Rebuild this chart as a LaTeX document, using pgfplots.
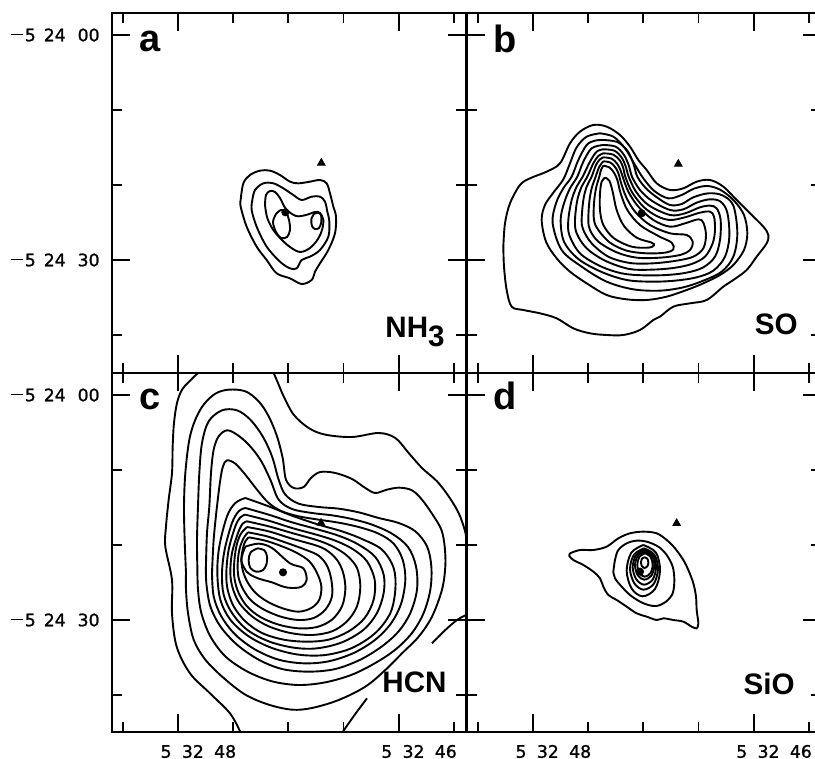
\documentclass[border=0pt]{standalone}
\usepackage{fontspec}
\setmainfont{Liberation Sans}
\newfontfamily\tickfont[FakeBold=1.2]{DejaVu Sans}
\usepackage{pgfplots}
\pgfplotsset{compat=1.18}
\newcommand\mn{\rule[3pt]{6pt}{0.8pt}}
\newcommand\ylA{\mbox{\mn\hspace{0.7pt}5\hspace{4pt}24\hspace{6pt}00}}
\newcommand\ylB{\mbox{\mn\hspace{0.7pt}5\hspace{4pt}24\hspace{6pt}30}}
\newcommand\xlA{\mbox{5\hspace{5.2pt}32\hspace{5.2pt}48}}
\newcommand\xlB{\mbox{5\hspace{5.2pt}32\hspace{5.2pt}46}}
\tikzset{
  plet/.style={anchor=base west, inner sep=0pt, font=\bfseries\fontsize{19}{19}\selectfont},
  pmol/.style={anchor=base east, inner sep=0pt, font=\bfseries\fontsize{14.8}{15}\selectfont}
}
\pgfplotsset{
  panel/.style={scale only axis, width=177pt, height=180pt, y dir=reverse, anchor=south west,
    axis line style={line width=1.1pt}, tick align=inside,
    major tick length=9pt, minor tick length=5pt,
    tick style={black, line width=0.9pt},
    tick label style={font=\tickfont\fontsize{8.6}{9}\selectfont},
    yticklabel style={anchor=east, inner sep=0pt, xshift=-6pt},
    xticklabel style={anchor=north, inner sep=0pt, yshift=-6.3pt, xshift=10.2pt}},
  ct/.style={black, line width=0.95pt, smooth, tension=0.55, mark=none},
  tri/.style={only marks, mark=triangle*, mark size=2.2pt, black},
  dot/.style={only marks, mark=*, mark size=1.8pt, black}
}
\begin{document}
\begin{tikzpicture}
\useasboundingbox (0,0) rectangle (407.5pt,379.5pt);
% ---------------- panel a : NH3
\begin{axis}[panel, at={(56pt,193pt)},
  xmin=336, xmax=1398, ymin=39, ymax=1119,
  xtick={534,1196}, minor xtick={368.5,699.5,865,1030.5,1361.5}, xticklabels={},
  ytick={105,780}, minor ytick={330,555,1005}, yticklabels={\ylA,\ylB}]
\addplot[ct] coordinates {(722,600) (730,550) (750,525) (780,512) (810,512) (840,525) (870,545) (895,550) (930,545) (960,540) (980,550) (990,580) (1000,620) (1008,650) (1005,700) (985,750) (960,790) (945,815) (935,840) (905,852) (870,835) (830,820) (800,780) (770,740) (740,680) (722,620) (722,600)};
\addplot[ct] coordinates {(757,600) (765,570) (790,550) (820,550) (850,565) (880,585) (905,600) (935,590) (960,590) (975,605) (982,635) (988,665) (985,710) (960,750) (930,770) (905,780) (890,805) (870,805) (840,785) (800,740) (770,680) (755,630) (757,600)};
\addplot[ct] coordinates {(795,615) (798,585) (810,573) (825,576) (840,594) (858,627) (888,648) (918,645) (945,636) (960,639) (970,660) (966,690) (954,717) (930,744) (900,756) (870,741) (840,714) (816,684) (801,651) (795,615)};
\addplot[ct] coordinates {(828,642) (843,630) (858,636) (867,660) (870,690) (861,711) (843,714) (828,696) (819,666) (828,642)};
\addplot[ct] coordinates {(942,642) (954,638) (963,645) (964,666) (957,684) (945,687) (936,678) (934,657) (942,642)};
\addplot[tri] coordinates {(964,489)};
\addplot[dot] coordinates {(856,637)};
\node[plet] at (axis cs:417,156) {a};
\node[pmol] at (axis cs:1335,1014) {NH\raisebox{-4.3pt}{3}};
\end{axis}
% ---------------- panel b : SO
\begin{axis}[panel, at={(233.5pt,193pt)},
  xmin=-9, xmax=1053, ymin=-291, ymax=789,
  xtick={189,851}, minor xtick={23.5,354.5,520,685.5,1016.5}, xticklabels={},
  ytick={-225,450}, minor ytick={0,225,675}, yticklabels={}]
\addplot[ct] coordinates {(100,410) (105,340) (120,280) (150,225) (180,205) (230,185) (270,160) (300,100) (330,65) (370,45) (410,50) (450,75) (480,110) (505,150) (530,180) (560,220) (600,240) (640,235) (680,215) (720,210) (760,230) (800,270) (840,310) (880,350) (895,375) (890,400) (860,440) (830,480) (790,510) (760,530) (710,570) (660,580) (610,590) (570,620) (550,630) (510,660) (460,675) (410,675) (360,670) (310,655) (260,625) (210,610) (160,600) (125,590) (110,540) (102,470) (100,410)};
\addplot[ct] coordinates {(390,70) (430,80) (465,115) (495,165) (520,205) (553,243) (595,265) (635,255) (672,236) (712,228) (752,240) (792,272) (822,315) (832,370) (822,420) (790,465) (750,495) (700,520) (650,540) (590,560) (530,570) (470,568) (410,555) (350,520) (300,485) (260,445) (228,395) (215,330) (225,285) (250,248) (280,208) (300,160) (320,112) (350,80) (390,70)};
\addplot[ct] coordinates {(400,90) (442,96) (472,122) (490,160) (502,200) (528,235) (562,263) (600,285) (635,282) (670,262) (715,250) (757,256) (790,287) (802,370) (790,440) (755,485) (700,512) (640,532) (570,542) (490,538) (410,515) (335,470) (275,420) (248,340) (258,280) (280,235) (305,200) (325,150) (350,105) (375,92) (400,90)};
\addplot[ct] coordinates {(400,105) (437,110) (462,135) (477,168) (486,200) (510,240) (545,272) (600,300) (640,298) (680,278) (720,268) (752,275) (772,308) (778,380) (765,440) (730,482) (680,502) (615,512) (545,515) (470,510) (395,486) (325,447) (282,395) (272,330) (282,280) (300,235) (322,200) (340,155) (365,115) (400,105)};
\addplot[ct] coordinates {(400,118) (433,122) (455,143) (468,172) (476,200) (498,245) (535,285) (600,315) (645,310) (690,292) (720,287) (740,295) (752,330) (750,390) (735,440) (700,472) (650,488) (590,495) (520,496) (455,490) (390,468) (330,430) (298,375) (295,330) (305,270) (320,230) (338,200) (360,155) (380,125) (400,118)};
\addplot[ct] coordinates {(400,130) (430,134) (450,152) (460,175) (466,200) (485,245) (520,290) (560,318) (600,330) (645,322) (690,308) (720,305) (732,320) (735,360) (728,400) (705,440) (665,462) (610,474) (545,479) (478,477) (405,452) (350,415) (320,370) (315,330) (322,270) (335,230) (352,200) (370,160) (385,138) (400,130)};
\addplot[ct] coordinates {(400,142) (425,146) (442,162) (452,182) (458,200) (475,245) (505,290) (550,330) (600,350) (645,340) (685,328) (700,338) (708,375) (700,415) (670,440) (620,452) (550,460) (480,459) (415,440) (365,400) (340,360) (335,330) (340,270) (350,230) (365,200) (378,165) (390,148) (400,142)};
\addplot[ct] coordinates {(400,154) (422,158) (438,175) (447,195) (452,215) (468,260) (495,305) (540,345) (600,370) (650,375) (668,395) (660,420) (630,435) (570,443) (500,443) (440,427) (385,395) (360,360) (355,330) (358,275) (365,235) (377,200) (388,170) (400,154)};
\addplot[ct] coordinates {(400,167) (418,172) (432,188) (442,210) (452,250) (472,300) (510,345) (565,378) (605,398) (610,418) (585,428) (530,430) (470,422) (420,398) (385,360) (372,330) (372,280) (378,235) (388,200) (393,180) (400,167)};
\addplot[ct] coordinates {(405,203) (418,212) (428,245) (440,300) (462,348) (500,383) (545,398) (552,406) (535,413) (485,410) (432,385) (400,345) (390,300) (390,250) (395,215) (405,203)};
\addplot[tri] coordinates {(625,162)};
\addplot[dot] coordinates {(515,310)};
\node[plet] at (axis cs:69,-171) {b};
\node[pmol] at (axis cs:984,675) {SO};
\end{axis}
% ---------------- panel c : HCN
\begin{axis}[panel, at={(56pt,13.5pt)}, height=179.5pt,
  xmin=0, xmax=1062, ymin=0, ymax=1077,
  xtick={198,860}, minor xtick={32.5,363.5,529,694.5,1025.5}, xticklabels={\xlA,\xlB},
  ytick={66,741}, minor ytick={291,516,966}, yticklabels={\ylA,\ylB}]
\addplot[ct] coordinates {(258,0) (232,25) (210,50) (195,90) (186,150) (182,220) (180,300) (170,380) (162,460) (160,521) (180,621) (180,721) (194,821) (234,901) (294,961) (354,1021) (385,1077)};
\addplot[ct] coordinates {(485,0) (498,30) (515,70) (545,125) (590,165) (640,185) (720,192) (800,180) (850,195) (890,240) (930,285) (975,325) (1010,370) (1040,420) (1058,470) (1062,490)};
\addplot[ct] coordinates {(960,811) (1000,771) (1035,741) (1062,726)};
\addplot[ct] coordinates {(765,976) (735,1016) (710,1051) (692,1077)};
\addplot[ct] coordinates {(222,600) (218,500) (216,400) (220,300) (232,200) (250,140) (275,95) (310,62) (350,50) (400,55) (440,85) (470,130) (495,190) (512,255) (522,320) (545,345) (575,342) (597,315) (625,297) (670,300) (720,318) (760,345) (790,360) (825,350) (862,344) (900,352) (930,380) (962,425) (988,470) (998,520) (1000,580) (990,650) (960,731) (920,791) (870,841) (820,891) (760,941) (680,981) (600,1005) (540,1010) (470,995) (400,965) (335,915) (280,860) (245,800) (228,720) (222,650) (222,600)};
\addplot[ct] coordinates {(256,580) (255,500) (258,400) (262,300) (270,210) (290,145) (330,112) (375,112) (415,140) (452,190) (480,250) (500,320) (520,365) (560,392) (620,402) (680,407) (740,418) (800,435) (860,450) (910,475) (945,520) (958,580) (955,650) (935,720) (900,780) (850,830) (790,870) (720,905) (640,928) (560,936) (480,925) (405,895) (340,850) (295,790) (268,720) (258,650) (256,580)};
\addplot[ct] coordinates {(282,570) (285,480) (292,400) (297,300) (305,230) (320,190) (345,172) (375,185) (410,215) (445,260) (475,320) (500,380) (540,408) (600,420) (660,427) (720,438) (780,455) (840,482) (888,522) (912,580) (915,650) (895,720) (860,775) (810,820) (745,860) (670,888) (590,896) (510,888) (440,860) (375,815) (325,760) (295,700) (283,630) (282,570)};
\addplot[ct] coordinates {(300,600) (305,500) (315,400) (325,320) (333,280) (345,262) (370,272) (400,305) (435,350) (470,390) (510,415) (560,430) (620,440) (680,449) (740,462) (800,482) (845,512) (872,560) (880,620) (868,690) (838,750) (790,800) (725,840) (650,865) (575,871) (500,860) (430,830) (370,785) (328,730) (305,670) (300,600)};
\addplot[ct] coordinates {(400,375) (470,400) (540,428) (620,455) (690,475) (750,498) (810,530) (845,585) (850,650) (835,720) (790,780) (720,825) (640,846) (560,845) (480,825) (410,790) (355,740) (325,680) (316,600) (322,520) (345,430) (370,390) (400,375)};
\addplot[ct] coordinates {(400,405) (470,425) (540,448) (620,470) (685,490) (740,515) (790,552) (815,605) (815,660) (795,720) (755,770) (690,808) (615,826) (545,824) (470,805) (405,770) (360,720) (335,665) (330,600) (338,530) (360,450) (380,415) (400,405)};
\addplot[ct] coordinates {(400,425) (470,443) (540,465) (620,487) (675,505) (725,530) (765,565) (788,620) (785,680) (758,735) (710,775) (650,800) (585,806) (515,800) (450,780) (400,745) (365,700) (347,650) (343,600) (350,530) (370,460) (385,433) (400,425)};
\addplot[ct] coordinates {(405,445) (470,460) (540,480) (620,503) (665,522) (705,548) (735,585) (745,640) (735,700) (705,745) (660,775) (600,786) (535,780) (470,760) (420,730) (382,690) (362,645) (355,600) (360,540) (378,480) (392,452) (405,445)};
\addplot[ct] coordinates {(405,462) (470,475) (540,497) (620,520) (655,540) (680,568) (695,605) (700,650) (690,700) (660,740) (615,762) (560,766) (500,755) (445,732) (405,700) (380,660) (368,620) (366,580) (372,525) (385,485) (405,462)};
\addplot[ct] coordinates {(408,478) (465,490) (525,510) (580,530) (620,548) (645,578) (658,620) (660,670) (640,710) (605,735) (560,741) (510,732) (460,712) (420,685) (395,652) (380,615) (377,575) (382,530) (395,495) (408,478)};
\addplot[ct] coordinates {(410,493) (460,503) (510,520) (555,540) (592,565) (615,600) (628,640) (622,680) (598,705) (560,716) (515,707) (470,688) (433,662) (408,630) (393,595) (388,560) (393,525) (400,505) (410,493)};
\addplot[ct] coordinates {(400,521) (440,512) (480,525) (534,571) (574,586) (584,621) (569,641) (540,645) (514,641) (480,628) (454,621) (428,612) (404,596) (388,561) (400,521)};
\addplot[ct] coordinates {(437,526) (457,532) (465,550) (463,575) (452,592) (432,596) (415,585) (410,562) (416,538) (437,526)};
\addplot[tri] coordinates {(627,450)};
\addplot[dot] coordinates {(513,598)};
\node[plet] at (axis cs:81,111) {c};
\node[pmol] at (axis cs:1005,960) {HCN};
\end{axis}
% ---------------- panel d : SiO
\begin{axis}[panel, at={(233.5pt,13.5pt)}, height=179.5pt,
  xmin=-279, xmax=783, ymin=-381, ymax=696,
  xtick={-81,581}, minor xtick={-246.5,84.5,250,415.5,746.5}, xticklabels={\xlA,\xlB},
  ytick={-315,360}, minor ytick={-90,135,585}, yticklabels={}]
\addplot[ct] coordinates {(30,160) (60,150) (100,150) (140,140) (175,115) (210,100) (250,95) (290,100) (320,120) (345,145) (370,180) (385,210) (400,250) (408,290) (410,330) (415,370) (410,385) (395,380) (370,365) (340,360) (310,355) (290,360) (260,350) (230,340) (200,320) (170,300) (145,285) (130,260) (120,235) (100,215) (70,195) (40,180) (28,168) (30,160)};
\addplot[ct] coordinates {(160,215) (165,180) (175,150) (200,130) (230,122) (260,125) (295,140) (320,165) (338,200) (343,240) (338,280) (318,305) (290,318) (265,315) (240,305) (210,285) (185,260) (165,235) (160,215)};
\addplot[ct] coordinates {(250,135) (288,158) (300,212) (285,267) (248,289) (215,266) (200,212) (214,158) (250,135)};
\addplot[ct] coordinates {(252,145) (283,164) (294,207) (281,252) (250,269) (223,250) (210,207) (222,164) (252,145)};
\addplot[ct] coordinates {(253,150) (279,166) (288,202) (278,239) (252,254) (229,238) (218,202) (228,166) (253,150)};
\addplot[ct] coordinates {(254,155) (276,168) (283,197) (274,227) (253,239) (234,227) (225,197) (233,168) (254,155)};
\addplot[ct] coordinates {(255,160) (272,171) (278,195) (271,220) (254,230) (239,220) (232,195) (238,171) (255,160)};
\addplot[ct] coordinates {(254,172) (262,176) (265,188) (262,199) (253,204) (246,199) (243,188) (246,176) (254,172)};
\addplot[tri] coordinates {(350,70)};
\addplot[dot] coordinates {(240,215)};
\node[plet] at (axis cs:-201,-270) {d};
\node[pmol] at (axis cs:705,585) {SiO};
\end{axis}
\end{tikzpicture}
\end{document}
